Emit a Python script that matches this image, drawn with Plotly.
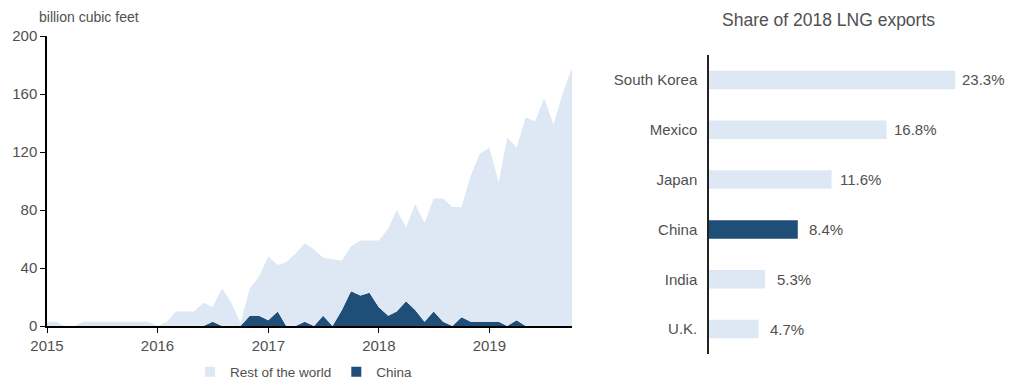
import pandas as pd
import plotly.graph_objects as go

# Monthly US LNG exports, billion cubic feet (Jan 2015 - Oct 2019)
months = pd.date_range("2015-01-01", "2019-10-01", freq="MS")

china = [
    0, 0, 0, 0, 0, 0, 0, 0, 0, 0, 0, 0,          # 2015
    0, 0, 0, 0, 0, 0, 3, 0, 0, 0, 7, 7,          # 2016
    4, 10, 0, 0, 3, 0, 7, 0, 11, 24, 21, 23,     # 2017
    13, 7, 10, 17, 11, 3, 10, 3, 0, 6, 3, 3,     # 2018
    3, 3, 0, 4, 0, 0, 0, 0, 0, 0,                # 2019
]
rest_of_world = [
    3, 3, 0, 0, 3, 3, 3, 3, 3, 3, 3, 3,
    0, 3, 10, 10, 10, 16, 10, 26, 16, 2, 19, 27,
    44, 32, 44, 50, 54, 53, 40, 46, 34, 31, 38, 36,
    46, 60, 70, 51, 73, 68, 78, 85, 82, 76, 101, 116,
    120, 96, 130, 119, 144, 141, 157, 139, 161, 178,
]

year_ticks = ["2015", "2016", "2017", "2018", "2019"]

# Share of 2018 LNG exports by destination, percent
destinations = ["South Korea", "Mexico", "Japan", "China", "India", "U.K."]
shares = [23.3, 16.8, 11.6, 8.4, 5.3, 4.7]

LIGHT = "#dde8f4"
DARK = "#1f4e78"
TEXT = "#505050"
FONT = "Arial"

W, H = 1011, 383

fig = go.Figure()

# stacked monthly areas
fig.add_trace(go.Scatter(
    x=months, y=china, stackgroup="lng", mode="none",
    fillcolor=DARK, name="China", showlegend=False,
    xaxis="x", yaxis="y",
))
fig.add_trace(go.Scatter(
    x=months, y=rest_of_world, stackgroup="lng", mode="none",
    fillcolor=LIGHT, name="Rest of the world", showlegend=False,
    xaxis="x", yaxis="y",
))

# legend swatches
for nm, col in [("Rest of the world", LIGHT), ("China", DARK)]:
    fig.add_trace(go.Scatter(
        x=[None], y=[None], mode="markers", name=nm,
        marker=dict(symbol="square", size=10, color=col),
        xaxis="x", yaxis="y",
    ))

# share bars
bar_colors = [DARK if d == "China" else LIGHT for d in destinations]
fig.add_trace(go.Bar(
    x=shares, y=destinations, orientation="h",
    marker=dict(color=bar_colors, line=dict(width=0)),
    width=0.37, showlegend=False, xaxis="x2", yaxis="y2",
))

annotations = [
    dict(text="billion cubic feet", x=37 / W, y=1 - 17 / H, xref="paper", yref="paper",
         xanchor="left", yanchor="middle", showarrow=False,
         font=dict(size=14, color=TEXT, family=FONT)),
    dict(text="Share of 2018 LNG exports", x=828 / W, y=1 - 20 / H, xref="paper", yref="paper",
         xanchor="center", yanchor="middle", showarrow=False,
         font=dict(size=17.5, color=TEXT, family=FONT)),
]
for d, s in zip(destinations, shares):
    annotations.append(dict(
        text=f"{s:.1f}%", x=s, y=d, xref="x2", yref="y2",
        xanchor="center", yanchor="middle", xshift=28.5, showarrow=False,
        font=dict(size=15, color=TEXT, family=FONT),
    ))

px_per_pct = 10.57
fig.update_layout(
    width=W, height=H,
    margin=dict(l=0, r=0, t=0, b=0, autoexpand=False),
    paper_bgcolor="white", plot_bgcolor="white",
    font=dict(family=FONT, color=TEXT, size=15),
    xaxis=dict(
        domain=[47 / W, 572 / W], anchor="y", type="date",
        range=["2015-01-01", "2019-10-01"],
        tickvals=[f"{y}-01-01" for y in year_ticks], ticktext=year_ticks,
        ticks="outside", ticklen=5, tickcolor="black", tickwidth=1,
        showline=True, linecolor="black", linewidth=1.5, showgrid=False, zeroline=False,
        tickfont=dict(size=15, color=TEXT), automargin=False,
    ),
    yaxis=dict(
        domain=[1 - 326 / H, 1 - 36 / H], anchor="x",
        range=[0, 200], dtick=40,
        ticks="outside", ticklen=5, tickcolor="black", tickwidth=1,
        showline=True, linecolor="black", linewidth=1.5, showgrid=False, zeroline=False,
        tickfont=dict(size=15, color=TEXT), automargin=False,
    ),
    xaxis2=dict(
        domain=[709 / W, 1.0], anchor="y2",
        range=[0, (W - 709) / px_per_pct],
        visible=False, automargin=False,
    ),
    yaxis2=dict(
        domain=[1 - 354 / H, 1 - 55 / H], anchor="x2",
        autorange="reversed", categoryorder="array", categoryarray=destinations,
        showline=True, linecolor="#222222", linewidth=1.5,
        ticks="", ticklabelstandoff=7, showgrid=False, zeroline=False,
        tickfont=dict(size=15, color=TEXT), automargin=False,
    ),
    legend=dict(
        orientation="h", x=190 / W, xanchor="left", y=1 - 372 / H, yanchor="middle",
        font=dict(size=13.5, color=TEXT), itemwidth=30, tracegroupgap=0,
        traceorder="normal", bgcolor="rgba(0,0,0,0)",
    ),
    annotations=annotations,
)

fig.write_html("out.html")
